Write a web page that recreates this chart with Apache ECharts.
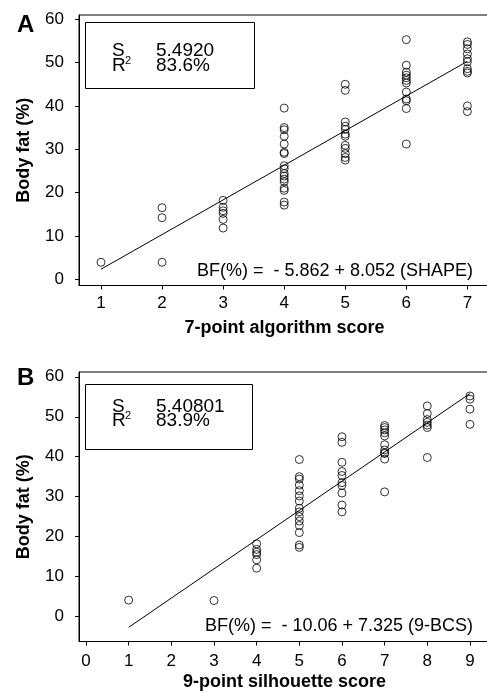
<!DOCTYPE html>
<html>
<head>
<meta charset="utf-8">
<script src="https://cdn.jsdelivr.net/npm/echarts@6/dist/echarts.min.js"></script>
<style>
  html, body { margin: 0; padding: 0; background: #fff; }
  #chart { width: 487px; height: 692px; }
</style>
</head>
<body>
<div id="chart"></div>
<script>
// panel A: 7-point algorithm score
let scoresA = [1, 2, 3, 4, 5, 6, 7];
let fatA = [
  [3.9],
  [16.5, 14.2, 3.9],
  [18.2, 16.6, 15.8, 15.2, 13.8, 11.8],
  [39.5, 35, 34.5, 33, 31.2, 29.3, 29, 26.2, 25.5, 24.4, 23.8, 23.1, 22.5, 21, 20.5, 17.8, 17.1],
  [45, 43.6, 36.3, 35.3, 34.6, 33.5, 33, 30.9, 30.2, 29, 28.1, 27.5],
  [55.3, 49.4, 47.8, 47.1, 46.5, 45.9, 45.3, 43.2, 41.6, 41.2, 39.4, 31.2],
  [54.8, 54.2, 53.2, 52, 50.9, 50.2, 48.6, 48, 47.6, 40, 38.7]
];
let fitAx = [1, 7];
let fitAy = [2.3, 50.3];

// panel B: 9-point silhouette score
let scoresB = [1, 3, 4, 5, 6, 7, 8, 9];
let fatB = [
  [4.1],
  [4],
  [18.2, 16.8, 16.1, 15.5, 14.2, 12.1],
  [39.3, 35, 34.4, 32.9, 31.5, 30.2, 28.9, 27.1, 26.2, 25, 23.9, 22.8, 21, 17.9, 17.3],
  [45, 43.6, 38.6, 36.3, 35.3, 33.5, 32.8, 30.9, 27.9, 26.2],
  [47.8, 47.3, 46.7, 46, 45.2, 43, 41.7, 41, 40.8, 39.4, 31.2],
  [52.7, 50.8, 49.3, 48.6, 47.9, 47.3, 39.8],
  [55.2, 54.4, 51.9, 48.1]
];
let fitBx = [1, 9];
let fitBy = [-2.7, 55.8];

let yTicks = [0, 10, 20, 30, 40, 50, 60];
let xTicksA = [1, 2, 3, 4, 5, 6, 7];
let xTicksB = [0, 1, 2, 3, 4, 5, 6, 7, 8, 9];

function pairs(scores, fats) {
  let out = [];
  for (let i = 0; i < scores.length; i++) {
    for (let j = 0; j < fats[i].length; j++) {
      out.push([scores[i], fats[i][j]]);
    }
  }
  return out;
}
function zip(xs, ys) {
  return xs.map(function (x, i) { return [x, ys[i]]; });
}

let font = 'Liberation Sans, Arial, sans-serif';

function xAxis(idx, min, max, ticks, name, labelMargin, nameGap) {
  return {
    type: 'value', gridIndex: idx, min: min, max: max,
    name: name, nameLocation: 'middle', nameGap: nameGap,
    nameTextStyle: { fontFamily: font, fontWeight: 'bold', fontSize: 18, color: '#000' },
    axisLine: { show: true, onZero: false, lineStyle: { color: '#000', width: 1 } },
    axisTick: { show: true, length: 4, customValues: ticks, lineStyle: { color: '#000' } },
    axisLabel: { customValues: ticks, margin: labelMargin, fontFamily: font, fontSize: 17, color: '#000' },
    splitLine: { show: false }
  };
}
function yAxis(idx, min, max) {
  return {
    type: 'value', gridIndex: idx, min: min, max: max,
    name: 'Body fat (%)', nameLocation: 'middle', nameGap: 46, nameRotate: 90,
    nameTextStyle: { fontFamily: font, fontWeight: 'bold', fontSize: 18, color: '#000' },
    axisLine: { show: true, onZero: false, lineStyle: { color: '#000', width: 1 } },
    axisTick: { show: true, length: 4, customValues: yTicks, lineStyle: { color: '#000' } },
    axisLabel: { customValues: yTicks, margin: 15, fontFamily: font, fontSize: 17, color: '#000' },
    splitLine: { show: false }
  };
}

let dot = {
  type: 'scatter', symbol: 'circle', symbolSize: 8,
  itemStyle: { color: 'rgba(0,0,0,0)', borderColor: '#000', borderWidth: 1 },
  silent: true
};
let fit = {
  type: 'line', symbol: 'none', silent: true,
  lineStyle: { color: '#000', width: 1 }
};

function txt(x, y, s, size, extra) {
  return {
    type: 'text', x: x, y: y,
    style: Object.assign({ text: s, fontFamily: font, fontSize: size, fill: '#000', verticalAlign: 'middle' }, extra || {})
  };
}

let chart = echarts.init(document.getElementById('chart'), null, { renderer: 'canvas' });
chart.setOption({
  animation: false,
  backgroundColor: '#fff',
  grid: [
    { left: 79, top: 15, right: -3, bottom: 406.5, outerBoundsMode: 'none', containLabel: false,
      show: true, borderColor: '#000', borderWidth: 1, backgroundColor: 'transparent' },
    { left: 79, top: 372, right: -3, bottom: 50.5, outerBoundsMode: 'none', containLabel: false,
      show: true, borderColor: '#000', borderWidth: 1, backgroundColor: 'transparent' }
  ],
  xAxis: [
    xAxis(0, 0.64, 7.37, xTicksA, '7-point algorithm score', 9, 34),
    xAxis(1, -0.164, 9.47, xTicksB, '9-point silhouette score', 11, 32)
  ],
  yAxis: [
    yAxis(0, -1.46, 61.0),
    yAxis(1, -6.25, 61.2)
  ],
  series: [
    Object.assign({}, dot, { xAxisIndex: 0, yAxisIndex: 0, data: pairs(scoresA, fatA) }),
    Object.assign({}, fit, { xAxisIndex: 0, yAxisIndex: 0, data: zip(fitAx, fitAy) }),
    Object.assign({}, dot, { xAxisIndex: 1, yAxisIndex: 1, data: pairs(scoresB, fatB) }),
    Object.assign({}, fit, { xAxisIndex: 1, yAxisIndex: 1, data: zip(fitBx, fitBy) })
  ],
  graphic: [
    // panel letters
    txt(17, 25, 'A', 24, { fontWeight: 'bold' }),
    txt(17, 378, 'B', 24, { fontWeight: 'bold' }),
    // stats box A
    { type: 'rect', shape: { x: 85.5, y: 22.5, width: 169, height: 66 }, style: { fill: 'none', stroke: '#000', lineWidth: 1 } },
    txt(112, 51, 'S', 19), txt(156, 51, '5.4920', 19),
    txt(112, 66, 'R', 19), txt(125, 61, '2', 11), txt(156, 66, '83.6%', 19),
    // stats box B
    { type: 'rect', shape: { x: 85.5, y: 384.5, width: 167, height: 65 }, style: { fill: 'none', stroke: '#000', lineWidth: 1 } },
    txt(112, 407, 'S', 19), txt(156, 407, '5.40801', 19),
    txt(112, 421, 'R', 19), txt(125, 416, '2', 11), txt(156, 421, '83.9%', 19),
    // equations
    txt(473, 271, 'BF(%) =  - 5.862 + 8.052 (SHAPE)', 18, { align: 'right' }),
    txt(473, 626, 'BF(%) =  - 10.06 + 7.325 (9-BCS)', 18, { align: 'right' })
  ]
});
</script>
</body>
</html>
